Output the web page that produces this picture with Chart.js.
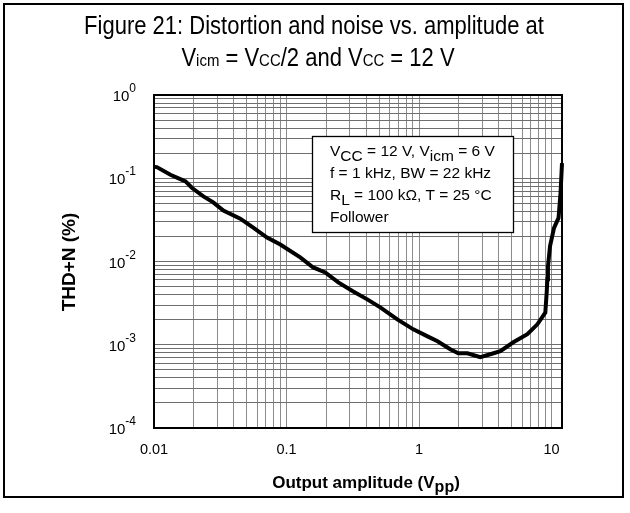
<!DOCTYPE html>
<html>
<head>
<meta charset="utf-8">
<script src="https://cdn.jsdelivr.net/npm/chart.js@4.4.0/dist/chart.umd.min.js"></script>
<style>
  html, body { margin: 0; padding: 0; background: #fff; }
</style>
</head>
<body>
<canvas id="thdChart" width="630" height="513"></canvas>
<script>
// output amplitude (Vpp) and THD+N (%)
const ampX = [0.0100, 0.0105, 0.0133, 0.0158, 0.0173, 0.0194, 0.0236, 0.0280, 0.0334, 0.0448,
  0.0561, 0.0713, 0.0898, 0.127, 0.159, 0.196, 0.246, 0.319, 0.407, 0.510,
  0.686, 0.906, 1.16, 1.38, 1.72, 1.98, 2.32, 2.90, 3.45, 4.11,
  5.15, 6.57, 7.82, 8.98, 9.20, 9.30, 9.40, 9.75, 10.45, 11.3, 11.7, 12.0];
const thdY = [0.137, 0.136, 0.110, 0.0978, 0.0916, 0.0763, 0.0606, 0.0513, 0.0408, 0.0327,
  0.0255, 0.0194, 0.0160, 0.0112, 0.00848, 0.00738, 0.00561, 0.00437, 0.00351, 0.00281,
  0.00202, 0.00153, 0.00126, 0.00110, 0.000883, 0.000791, 0.000791, 0.000708, 0.000769, 0.000836,
  0.00107, 0.00134, 0.00176, 0.00243, 0.0043, 0.0061, 0.0087, 0.0153, 0.0253, 0.0334, 0.0665, 0.152];

// grid lines
const xGridValues = [0.01, 0.02, 0.03, 0.04, 0.05, 0.06, 0.07, 0.08, 0.09,
  0.1, 0.2, 0.3, 0.4, 0.5, 0.6, 0.7, 0.8, 0.9,
  1, 2, 3, 4, 5, 6, 7, 8, 9, 10];
const yGridValues = [0.0001, 0.0002, 0.0003, 0.0004, 0.0005, 0.0006, 0.0007, 0.0008, 0.0009,
  0.001, 0.002, 0.003, 0.004, 0.005, 0.006, 0.007, 0.008, 0.009,
  0.01, 0.02, 0.03, 0.04, 0.05, 0.06, 0.07, 0.08, 0.09,
  0.1, 0.2, 0.3, 0.4, 0.5, 0.6, 0.7, 0.8, 0.9, 1];

// tick labels
const xTickValues = [0.01, 0.1, 1, 10];
const xTickLabels = ["0.01", "0.1", "1", "10"];
const yTickValues = [1, 0.1, 0.01, 0.001, 0.0001];
const yTickExponents = ["0", "-1", "-2", "-3", "-4"];

const fontName = '"Liberation Sans", Arial, Helvetica, sans-serif';
const f = (size, bold) => (bold ? "bold " : "") + size + "px " + fontName;

const annotationLines = [
  [{ text: "V", font: f(15.5) }, { text: "CC", font: f(15.5), dy: 5 }, { text: " = 12 V, V", font: f(15.5) },
   { text: "icm", font: f(15.5), dy: 5 }, { text: " = 6 V", font: f(15.5) }],
  [{ text: "f = 1 kHz, BW = 22 kHz", font: f(15.5) }],
  [{ text: "R", font: f(15.5) }, { text: "L", font: f(15.5), dy: 5 }, { text: " = 100 k\u03A9, T = 25 \u00B0C", font: f(15.5) }],
  [{ text: "Follower", font: f(15.5) }]
];

function drawRuns(ctx, runs, x, y, align, sx) {
  sx = sx || 1;
  let total = 0;
  runs.forEach(r => { ctx.font = r.font; r.w = ctx.measureText(r.text).width; total += r.w; });
  let startX = x;
  if (align === "center") startX = x - total * sx / 2;
  if (align === "right") startX = x - total * sx;
  ctx.save();
  ctx.translate(startX, y);
  ctx.scale(sx, 1);
  ctx.textAlign = "left";
  ctx.textBaseline = "alphabetic";
  ctx.fillStyle = "#000";
  let px = 0;
  runs.forEach(r => { ctx.font = r.font; ctx.fillText(r.text, px, r.dy || 0); px += r.w; });
  ctx.restore();
}

const boxPlugin = {
  id: "notes",
  beforeDatasetsDraw(chart) {
    const ctx = chart.ctx;
    ctx.save();
    ctx.fillStyle = "#fff";
    ctx.fillRect(312, 136, 201, 96);
    ctx.strokeStyle = "#000";
    ctx.lineWidth = 1.3;
    ctx.strokeRect(312.5, 136.5, 201, 96);
    ctx.restore();
    const baselines = [156, 178, 200, 222];
    annotationLines.forEach((runs, i) => drawRuns(ctx, runs, 330, baselines[i], "left"));
  },
  afterDraw(chart) {
    const ctx = chart.ctx;
    const area = chart.chartArea;
    const xs = chart.scales.x, ys = chart.scales.y;

    ctx.save();
    ctx.strokeStyle = "#000";
    ctx.lineWidth = 2;
    ctx.strokeRect(area.left, area.top, area.right - area.left, area.bottom - area.top);
    // outer frame
    ctx.strokeRect(4, 4, 619, 493);
    ctx.restore();

    // title
    drawRuns(ctx, [{ text: "Figure 21: Distortion and noise vs. amplitude at", font: f(25) }], 314, 34, "center", 0.88);
    drawRuns(ctx, [
      { text: "V", font: f(25) }, { text: "icm", font: f(17) },
      { text: " = V", font: f(25) }, { text: "CC", font: f(17) },
      { text: "/2 and V", font: f(25) }, { text: "CC", font: f(17) },
      { text: " = 12 V", font: f(25) }
    ], 318, 66, "center", 0.88);

    // y tick labels
    yTickValues.forEach((v, i) => {
      const py = ys.getPixelForValue(v);
      drawRuns(ctx, [{ text: "10", font: f(15) }, { text: yTickExponents[i], font: f(12), dy: -9 }], 136, py + 6, "right");
    });
    // x tick labels
    xTickValues.forEach((v, i) => {
      drawRuns(ctx, [{ text: xTickLabels[i], font: f(14.5) }], xs.getPixelForValue(v), 454, "center");
    });

    // axis titles
    drawRuns(ctx, [{ text: "Output amplitude (V", font: f(17, true) }, { text: "pp", font: f(16, true), dy: 4 },
      { text: ")", font: f(17, true) }], 366, 488, "center");
    ctx.save();
    ctx.translate(75, 262);
    ctx.rotate(-Math.PI / 2);
    drawRuns(ctx, [{ text: "THD+N (%)", font: f(19, true) }], 0, 0, "center");
    ctx.restore();
  }
};

const ctx = document.getElementById("thdChart").getContext("2d");
new Chart(ctx, {
  type: "scatter",
  data: {
    datasets: [{
      data: ampX.map((x, i) => ({ x: x, y: thdY[i] })),
      showLine: true,
      borderColor: "#000",
      borderWidth: 4,
      pointRadius: 0,
      tension: 0,
      fill: false,
      clip: 4
    }]
  },
  options: {
    responsive: false,
    animation: false,
    layout: { padding: { left: 154, top: 95, right: 68, bottom: 85 } },
    plugins: { legend: { display: false }, tooltip: { enabled: false } },
    scales: {
      x: {
        type: "logarithmic",
        min: 0.01,
        max: 12,
        afterBuildTicks: scale => { scale.ticks = xGridValues.map(v => ({ value: v })); },
        ticks: { display: false },
        grid: { color: "#8c8c8c", lineWidth: 1, drawTicks: false },
        border: { color: "#000", width: 2 }
      },
      y: {
        type: "logarithmic",
        min: 0.0001,
        max: 1,
        afterBuildTicks: scale => { scale.ticks = yGridValues.map(v => ({ value: v })); },
        ticks: { display: false },
        grid: { color: "#6e6e6e", lineWidth: 1, drawTicks: false },
        border: { color: "#000", width: 2 }
      }
    }
  },
  plugins: [boxPlugin]
});
</script>
</body>
</html>
